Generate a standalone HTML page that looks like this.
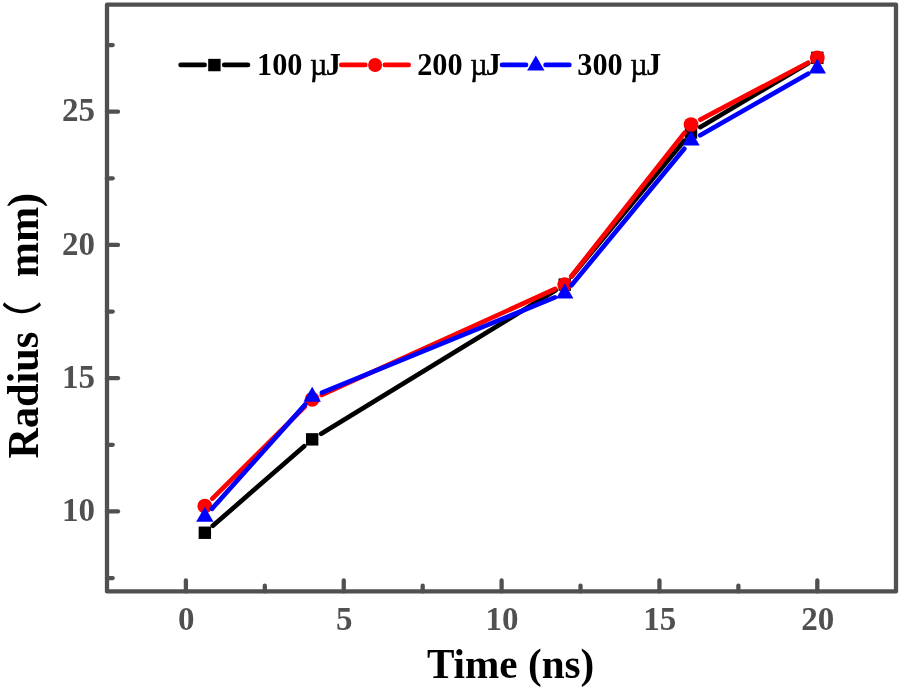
<!DOCTYPE html>
<html lang="en"><head><meta charset="utf-8"><title>Radius vs Time</title>
<style>html,body{margin:0;padding:0;background:#fff;}body{width:901px;height:690px;overflow:hidden;}svg{display:block;will-change:transform;}text{font-family:"Liberation Serif","Noto Serif CJK SC",serif;font-weight:bold;}</style>
</head><body>
<svg width="901" height="690" viewBox="0 0 901 690">
<rect x="0" y="0" width="901" height="690" fill="#ffffff"/>
<g stroke="#000000" stroke-width="4.7" stroke-linecap="round" fill="none">
<line x1="212.84" y1="525.79" x2="304.18" y2="446.32"/>
<line x1="321.22" y1="433.83" x2="555.70" y2="290.16"/>
<line x1="571.51" y1="276.46" x2="684.25" y2="140.70"/>
<line x1="700.14" y1="127.15" x2="808.18" y2="63.24"/>
</g>
<rect x="198.64" y="526.54" width="12.40" height="12.40" fill="#000000"/>
<rect x="305.98" y="433.16" width="12.40" height="12.40" fill="#000000"/>
<rect x="558.54" y="278.42" width="12.40" height="12.40" fill="#000000"/>
<rect x="684.82" y="126.34" width="12.40" height="12.40" fill="#000000"/>
<rect x="811.10" y="51.64" width="12.40" height="12.40" fill="#000000"/>
<g stroke="#ff0000" stroke-width="4.7" stroke-linecap="round" fill="none">
<line x1="212.36" y1="498.59" x2="304.66" y2="406.82"/>
<line x1="321.83" y1="394.96" x2="555.09" y2="289.00"/>
<line x1="571.31" y1="276.30" x2="684.45" y2="132.86"/>
<line x1="700.39" y1="119.59" x2="807.93" y2="62.79"/>
</g>
<circle cx="204.84" cy="506.06" r="7.40" fill="#ff0000"/>
<circle cx="312.18" cy="399.34" r="7.40" fill="#ff0000"/>
<circle cx="564.74" cy="284.62" r="7.40" fill="#ff0000"/>
<circle cx="691.02" cy="124.54" r="7.40" fill="#ff0000"/>
<circle cx="817.30" cy="57.84" r="7.40" fill="#ff0000"/>
<g stroke="#0000ff" stroke-width="4.7" stroke-linecap="round" fill="none">
<line x1="211.91" y1="508.83" x2="305.12" y2="404.58"/>
<line x1="321.99" y1="392.66" x2="554.93" y2="297.44"/>
<line x1="571.49" y1="285.25" x2="684.27" y2="148.72"/>
<line x1="700.23" y1="135.30" x2="808.09" y2="73.76"/>
</g>
<polygon points="204.84,506.74 196.14,521.74 213.54,521.74" fill="#0000ff"/>
<polygon points="312.18,386.68 303.48,401.68 320.88,401.68" fill="#0000ff"/>
<polygon points="564.74,283.42 556.04,298.42 573.44,298.42" fill="#0000ff"/>
<polygon points="691.02,130.55 682.32,145.55 699.72,145.55" fill="#0000ff"/>
<polygon points="817.30,58.51 808.60,73.51 826.00,73.51" fill="#0000ff"/>
<rect x="107.0" y="4.65" width="789.0" height="586.75" fill="none" stroke="#505050" stroke-width="4.3" stroke-linejoin="round"/>
<g stroke="#505050" stroke-width="4.3" stroke-linecap="round">
<line x1="107.0" y1="511.42" x2="118.0" y2="511.42"/>
<line x1="107.0" y1="378.17" x2="118.0" y2="378.17"/>
<line x1="107.0" y1="244.92" x2="118.0" y2="244.92"/>
<line x1="107.0" y1="111.67" x2="118.0" y2="111.67"/>
<line x1="107.0" y1="578.05" x2="112.7" y2="578.05"/>
<line x1="107.0" y1="444.80" x2="112.7" y2="444.80"/>
<line x1="107.0" y1="311.55" x2="112.7" y2="311.55"/>
<line x1="107.0" y1="178.30" x2="112.7" y2="178.30"/>
<line x1="107.0" y1="45.05" x2="112.7" y2="45.05"/>
<line x1="185.90" y1="591.4" x2="185.90" y2="580.40"/>
<line x1="343.75" y1="591.4" x2="343.75" y2="580.40"/>
<line x1="501.60" y1="591.4" x2="501.60" y2="580.40"/>
<line x1="659.45" y1="591.4" x2="659.45" y2="580.40"/>
<line x1="817.30" y1="591.4" x2="817.30" y2="580.40"/>
<line x1="264.82" y1="591.4" x2="264.82" y2="585.70"/>
<line x1="422.68" y1="591.4" x2="422.68" y2="585.70"/>
<line x1="580.52" y1="591.4" x2="580.52" y2="585.70"/>
<line x1="738.38" y1="591.4" x2="738.38" y2="585.70"/>
</g>
<text transform="translate(95.00,521.22) scale(1,1.032)" font-size="33px" fill="#505050" text-anchor="end">10</text>
<text transform="translate(95.00,387.97) scale(1,1.032)" font-size="33px" fill="#505050" text-anchor="end">15</text>
<text transform="translate(95.00,254.72) scale(1,1.032)" font-size="33px" fill="#505050" text-anchor="end">20</text>
<text transform="translate(95.00,121.47) scale(1,1.032)" font-size="33px" fill="#505050" text-anchor="end">25</text>
<text transform="translate(186.30,629.75) scale(1,1.032)" font-size="33px" fill="#505050" text-anchor="middle">0</text>
<text transform="translate(344.15,629.75) scale(1,1.032)" font-size="33px" fill="#505050" text-anchor="middle">5</text>
<text transform="translate(502.00,629.75) scale(1,1.032)" font-size="33px" fill="#505050" text-anchor="middle">10</text>
<text transform="translate(659.85,629.75) scale(1,1.032)" font-size="33px" fill="#505050" text-anchor="middle">15</text>
<text transform="translate(817.70,629.75) scale(1,1.032)" font-size="33px" fill="#505050" text-anchor="middle">20</text>
<text transform="translate(510.60,677.90) scale(1,1.045)" font-size="41.2px" fill="#000" text-anchor="middle">Time (ns)</text>
<g transform="translate(38.3,0) rotate(-90)">
<text transform="translate(-458.50,0.00) scale(1,1.03)" font-size="42.2px" fill="#000" text-anchor="start">Radius</text>
<text transform="translate(-340.40,-1.20) scale(1,1.0)" font-size="40px" fill="#000" text-anchor="start" style="font-family:'Noto Sans CJK SC','Liberation Sans',sans-serif;font-weight:500">（</text>
<text transform="translate(-277.20,0.00) scale(1,1.03)" font-size="42.2px" fill="#000" text-anchor="start">mm)</text>
</g>
<g stroke="#000000" stroke-width="4.7" stroke-linecap="round"><line x1="180.65" y1="64.9" x2="204.60" y2="64.9"/><line x1="224.20" y1="64.9" x2="247.95" y2="64.9"/></g>
<rect x="208.20" y="58.85" width="12.40" height="12.40" fill="#000000"/>
<text transform="translate(257.00,75.40) scale(1,1.035)" font-size="30.3px" fill="#000" text-anchor="start">100 <tspan style="font-weight:normal" stroke="#000" stroke-width="0.5">µ</tspan><tspan dx="-1.8">J</tspan></text>
<g stroke="#ff0000" stroke-width="4.7" stroke-linecap="round"><line x1="341.35" y1="64.9" x2="365.30" y2="64.9"/><line x1="384.90" y1="64.9" x2="408.65" y2="64.9"/></g>
<circle cx="375.10" cy="65.05" r="7.03" fill="#ff0000"/>
<text transform="translate(417.15,75.40) scale(1,1.035)" font-size="30.3px" fill="#000" text-anchor="start">200 <tspan style="font-weight:normal" stroke="#000" stroke-width="0.5">µ</tspan><tspan dx="-1.8">J</tspan></text>
<g stroke="#0000ff" stroke-width="4.7" stroke-linecap="round"><line x1="502.05" y1="64.9" x2="526.00" y2="64.9"/><line x1="545.60" y1="64.9" x2="569.35" y2="64.9"/></g>
<polygon points="535.80,55.50 527.10,70.50 544.50,70.50" fill="#0000ff"/>
<text transform="translate(577.30,75.40) scale(1,1.035)" font-size="30.3px" fill="#000" text-anchor="start">300 <tspan style="font-weight:normal" stroke="#000" stroke-width="0.5">µ</tspan><tspan dx="-1.8">J</tspan></text>
</svg></body></html>
